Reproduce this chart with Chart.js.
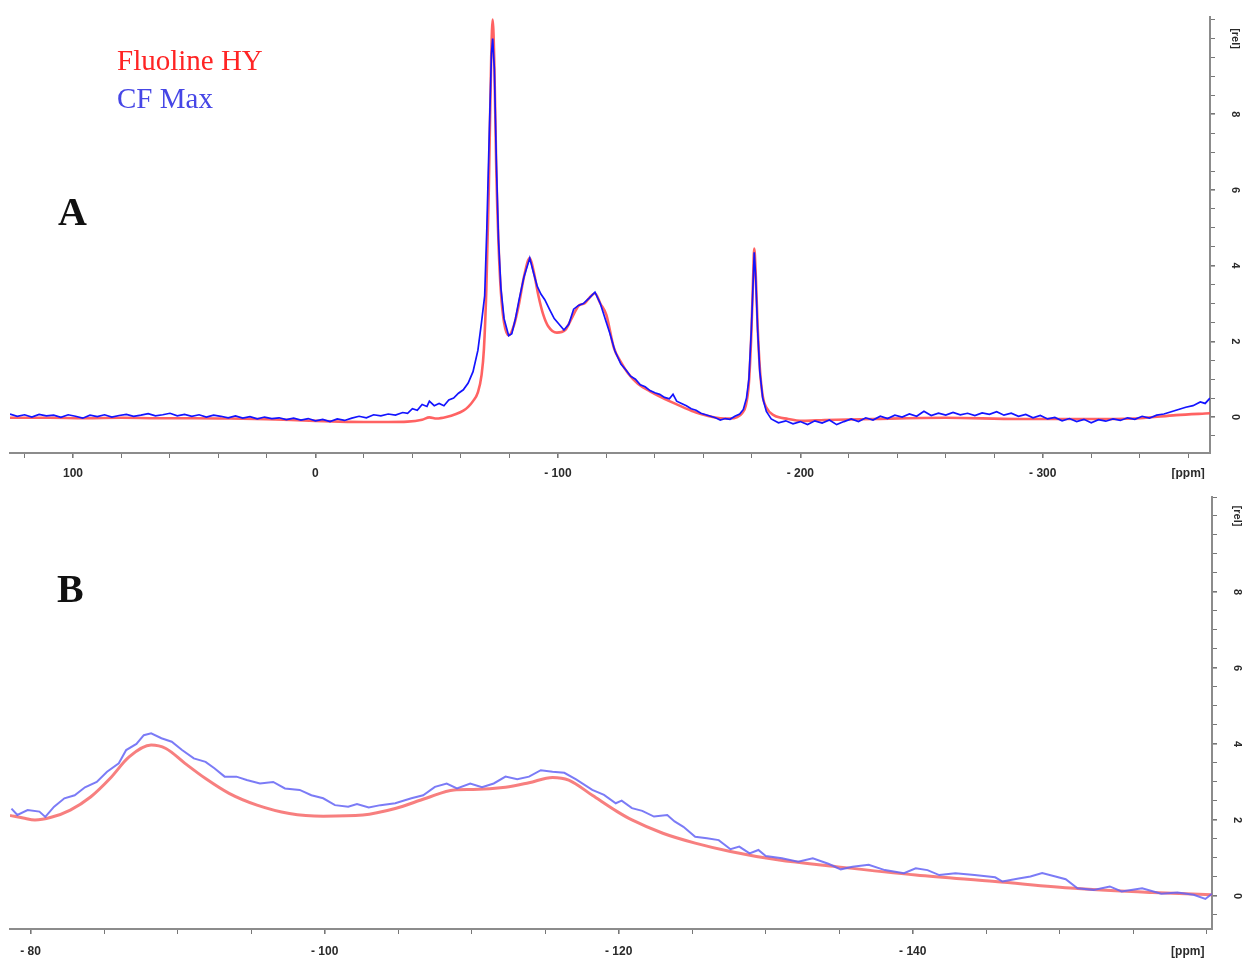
<!DOCTYPE html>
<html>
<head>
<meta charset="utf-8">
<title>19F MAS NMR spectra</title>
<script src="https://cdn.jsdelivr.net/npm/chart.js@4.4.1/dist/chart.umd.min.js"></script>
<style>
  html, body { margin: 0; padding: 0; background: #fff; }
  #wrap { position: relative; width: 1247px; height: 958px; overflow: hidden; }
  canvas { position: absolute; left: 0; }
  #chartA { top: 0; }
  #chartB { top: 479px; }
  .txt { position: absolute; font-family: "Liberation Serif", "DejaVu Serif", serif; line-height: 1; white-space: nowrap; }
  .legend { font-size: 29px; left: 117px; }
  .panel { font-size: 40px; font-weight: bold; color: #111; }
</style>
</head>
<body>
<div id="wrap">
  <canvas id="chartA" width="1247" height="479"></canvas>
  <canvas id="chartB" width="1247" height="479"></canvas>
  <div class="txt legend" style="top:46px; color:#ff2424;">Fluoline HY</div>
  <div class="txt legend" style="top:84px; color:#4646e6;">CF Max</div>
  <div class="txt panel" style="left:58px; top:192px;">A</div>
  <div class="txt panel" style="left:57px; top:569px;">B</div>
</div>

<script>
// ================= DATA : full spectrum (A) =================
// Fluoline HY, chemical shift [ppm] / intensity [rel]
const redA_ppm = [
  126, 110, 95, 80, 65, 50, 35, 20, 10, 0,
  -10, -20, -30, -38, -44, -47, -50, -54, -58, -61,
  -63, -65, -67, -68.5, -69.5, -70.5, -71.5, -72.5, -73.1, -73.8,
  -74.6, -75.5, -76.5, -77.8, -79.7, -82, -84, -86, -88.4, -90,
  -92, -94, -96, -99.6, -103, -106, -108.7, -111, -113, -115.3,
  -117.5, -120, -123, -126, -129, -133, -138, -146, -152, -157,
  -162, -167, -171, -174, -176, -177.5, -178.8, -179.8, -180.5, -181,
  -181.6, -182.4, -183.3, -184.5, -186, -189, -195, -201, -210, -230,
  -260, -290, -320, -340, -355, -369
];
const redA_val = [
  -0.02, -0.02, -0.03, -0.02, -0.03, -0.03, -0.04, -0.06, -0.08, -0.1,
  -0.12, -0.13, -0.13, -0.12, -0.07, -0.01, -0.04, 0.0, 0.08, 0.17,
  0.27, 0.42, 0.65, 1.1, 1.8, 3.4, 6.0, 9.5, 10.5, 9.3,
  6.5, 4.6, 3.3, 2.5, 2.16, 2.45, 3.0, 3.7, 4.2, 3.85,
  3.2, 2.7, 2.4, 2.23, 2.3, 2.65, 2.95, 3.0, 3.15, 3.27,
  3.0, 2.7, 1.85, 1.45, 1.15, 0.88, 0.68, 0.42, 0.25, 0.12,
  0.03, -0.03, -0.04, 0.0, 0.1, 0.3, 0.9, 2.2, 3.6, 4.45,
  3.8, 2.4, 1.3, 0.55, 0.25, 0.05, -0.05, -0.1, -0.08, -0.05,
  -0.02, -0.05, -0.05, -0.03, 0.05, 0.1
];

// CF Max
const blueA_ppm = [
  126, 123, 120, 117, 114, 111, 108, 105, 102, 99,
  96, 93, 90, 87, 84, 81, 78, 75, 72, 69,
  66, 63, 60, 57, 54, 51, 48, 45, 42, 39,
  36, 33, 30, 27, 24, 21, 18, 15, 12, 9,
  6, 3, 0, -3, -6, -9, -12, -15, -18, -21,
  -24, -27, -30, -33, -36, -38, -40, -42, -44, -46,
  -47, -49, -51, -53, -55, -57, -59, -61, -63, -65,
  -67, -68.5, -69.8, -70.7, -71.7, -72.6, -73.1, -73.8, -74.6, -75.5,
  -76.5, -77.8, -79.7, -81, -82.5, -84, -86, -88.4, -90, -91.5,
  -93, -94.6, -96.5, -98.5, -100.5, -102.5, -104.5, -106.5, -108.5, -110.5,
  -113, -115.3, -117.5, -119.5, -121.5, -123.5, -126, -128, -130, -132,
  -134, -136, -138, -140, -142, -144, -146, -147.5, -149, -151,
  -153, -155, -157, -159, -161, -163, -165, -167, -169, -171,
  -173, -175, -176.5, -177.8, -178.8, -179.8, -180.5, -181, -181.6, -182.4,
  -183.3, -184.5, -186, -188, -191, -194, -197, -200, -203, -206,
  -209, -212, -215, -218, -221, -224, -227, -230, -233, -236,
  -239, -242, -245, -248, -251, -254, -257, -260, -263, -266,
  -269, -272, -275, -278, -281, -284, -287, -290, -293, -296,
  -299, -302, -305, -308, -311, -314, -317, -320, -323, -326,
  -329, -332, -335, -338, -341, -344, -347, -350, -353, -356,
  -359, -362, -365, -367, -369
];
const blueA_val = [
  0.08, 0.02, 0.06, 0.0, 0.07, 0.03, 0.05, -0.01, 0.06, 0.02,
  -0.03, 0.05, 0.01, 0.06, 0.0, 0.04, 0.07, 0.02, 0.05, 0.09,
  0.03, 0.06, 0.1, 0.03, 0.07, 0.02, 0.06, 0.0, 0.05, 0.02,
  -0.02, 0.03, -0.03, 0.01, -0.05, 0.0, -0.04, -0.02, -0.07, -0.03,
  -0.08, -0.04, -0.1, -0.06, -0.12, -0.05, -0.09, -0.03, 0.02, -0.02,
  0.06, 0.03, 0.08, 0.05, 0.12, 0.1, 0.22, 0.18, 0.33, 0.28,
  0.42, 0.3, 0.36, 0.3, 0.45, 0.5, 0.63, 0.72, 0.9, 1.2,
  1.76, 2.5, 3.2, 5.0, 7.5, 9.6, 10.0, 9.2, 6.8, 4.7,
  3.4, 2.6, 2.15, 2.2, 2.6, 3.1, 3.7, 4.2, 3.8, 3.45,
  3.25, 3.1, 2.85, 2.6, 2.45, 2.3, 2.45, 2.85, 2.95, 3.0,
  3.15, 3.3, 3.0, 2.6, 2.2, 1.75, 1.4, 1.25, 1.08, 1.0,
  0.85, 0.8, 0.7, 0.64, 0.6, 0.52, 0.48, 0.6, 0.42, 0.36,
  0.3, 0.22, 0.18, 0.1, 0.06, 0.02, -0.02, -0.08, -0.04, -0.06,
  0.02, 0.08, 0.2, 0.5, 1.0, 2.3, 3.5, 4.35, 3.7, 2.3,
  1.2, 0.5, 0.15, -0.05, -0.15, -0.1, -0.18, -0.12, -0.2, -0.1,
  -0.16, -0.08, -0.2, -0.12, -0.05, -0.12, -0.02, -0.08, 0.02, -0.04,
  0.05, 0.0, 0.08, 0.02, 0.15, 0.04, 0.1, 0.05, 0.12, 0.06,
  0.1, 0.04, 0.11, 0.07, 0.14, 0.05, 0.1, 0.02, 0.07, -0.02,
  0.04, -0.05, -0.01, -0.1, -0.04, -0.12, -0.06, -0.15, -0.07, -0.11,
  -0.05, -0.09, -0.02, -0.06, 0.02, -0.03, 0.05, 0.08, 0.14, 0.2,
  0.26, 0.3, 0.4, 0.36, 0.5
];

// ================= DATA : expansion -78 .. -160 ppm (B) =================
const redB_ppm = [
  -78.6, -79.5, -80.3, -81.4, -82.7, -84.1, -85.4, -86.7, -88.2, -89.2,
  -90.5, -91.9, -93.5, -95.4, -97.6, -99.9, -102.6, -104.8, -106.9, -108.8,
  -110.1, -112.3, -113.9, -115.5, -116.6, -118.2, -119.9, -120.9, -123, -125.2,
  -127.6, -130.8, -134.8, -140.2, -145.6, -151, -156.3, -160.35
];
const redB_val = [
  2.12, 2.05, 2.0, 2.07, 2.26, 2.61, 3.09, 3.66, 3.97, 3.88,
  3.49, 3.09, 2.7, 2.39, 2.17, 2.1, 2.13, 2.3, 2.57, 2.79,
  2.8, 2.86, 2.98, 3.12, 3.05, 2.65, 2.22, 2.0, 1.65, 1.39,
  1.17, 0.95, 0.77, 0.55, 0.38, 0.2, 0.09, 0.03
];

const blueB_ppm = [
  -78.7, -79.1, -79.8, -80.6, -81, -81.6, -82.3, -83, -83.7, -84.5,
  -85.2, -86, -86.5, -87.2, -87.7, -88.2, -88.9, -89.6, -90.3, -91.1,
  -91.9, -92.5, -93.2, -94, -94.7, -95.6, -96.5, -97.3, -98.3, -99.1,
  -99.9, -100.7, -101.6, -102.2, -103, -103.8, -104.8, -105.9, -106.7, -107.5,
  -108.3, -109, -109.9, -110.7, -111.5, -112.3, -113.1, -113.9, -114.7, -115.5,
  -116.3, -117.1, -118.2, -119, -119.8, -120.2, -120.9, -121.6, -122.4, -123.3,
  -123.8, -124.4, -125.2, -126, -126.8, -127.6, -128.2, -128.9, -129.5, -130,
  -131.1, -132.2, -133.2, -134.3, -135.1, -135.9, -137, -138.1, -139.4, -140.2,
  -141, -141.8, -142.9, -144.2, -145.6, -146.1, -147.2, -148, -148.8, -149.7,
  -150.4, -151.2, -152.3, -153.4, -154.2, -155.6, -156.9, -158, -159.1, -159.9,
  -160.35
];
const blueB_val = [
  2.3, 2.13, 2.26, 2.22, 2.08, 2.35, 2.57, 2.65, 2.86, 3.0,
  3.27, 3.49, 3.84, 4.0, 4.23, 4.28, 4.15, 4.06, 3.84, 3.62,
  3.53, 3.36, 3.14, 3.14, 3.05, 2.96, 3.0, 2.83, 2.79, 2.65,
  2.57, 2.39, 2.35, 2.42, 2.33, 2.39, 2.44, 2.57, 2.65, 2.87,
  2.96, 2.83, 2.96, 2.86, 2.96, 3.14, 3.07, 3.14, 3.31, 3.27,
  3.24, 3.07, 2.79, 2.66, 2.44, 2.51, 2.31, 2.24, 2.09, 2.13,
  1.96, 1.82, 1.56, 1.52, 1.47, 1.23, 1.3, 1.12, 1.21, 1.05,
  0.99, 0.9, 0.99, 0.84, 0.7, 0.77, 0.82, 0.68, 0.6, 0.73,
  0.68, 0.55, 0.6, 0.55, 0.49, 0.38, 0.46, 0.51, 0.6, 0.51,
  0.44, 0.2, 0.16, 0.25, 0.12, 0.2, 0.06, 0.09, 0.03, -0.08,
  0.06
];

// ================= AXES =================
const xRangeA = [-369, 126];
const xRangeB = [-160.35, -78.6];
const yRangeA = [-0.95, 10.58];
const yRangeB = [-0.87, 10.5];

const xMajorA = [100, 0, -100, -200, -300];
const xMajorLabelsA = ["100", "0", "- 100", "- 200", "- 300"];
const xMajorB = [-80, -100, -120, -140];
const xMajorLabelsB = ["- 80", "- 100", "- 120", "- 140"];
const unitTickA = -360;   // "[ppm]" sits on a minor tick
const unitTickB = -158.7; // "[ppm]" sits just left of the -160 end tick
const yMajor = [0, 2, 4, 6, 8];
const yMajorLabels = ["0", "2", "4", "6", "8"];
const yUnitTick = 10;

const LINE_GREY = "#8c8c8c";
const TICK_GREY = "#777";
const tickFont = { family: "'Liberation Sans', Arial, sans-serif", size: 12, weight: "bold" };

function toPoints(xs, ys) {
  return xs.map((x, i) => ({ x: x, y: ys[i] }));
}

function range(from, to, step) {
  const out = [];
  const n = Math.round((to - from) / step);
  for (let i = 0; i <= n; i++) out.push(+(from + i * step).toFixed(3));
  return out;
}

function makeSpectrum(id, cfg) {
  const xTicks = range(cfg.xMinorFrom, cfg.xMinorTo, cfg.xStep);
  if (!xTicks.includes(cfg.unitTick)) xTicks.push(cfg.unitTick);
  const yTicks = range(-0.5, 10.5, 0.5);

  return new Chart(document.getElementById(id), {
    type: "line",
    data: {
      datasets: [
        {
          label: "CF Max",
          data: toPoints(cfg.blue[0], cfg.blue[1]),
          borderColor: cfg.blueColor,
          borderWidth: cfg.blueWidth,
          pointRadius: 0,
          tension: 0
        },
        {
          label: "Fluoline HY",
          data: toPoints(cfg.red[0], cfg.red[1]),
          borderColor: cfg.redColor,
          borderWidth: cfg.redWidth,
          pointRadius: 0,
          cubicInterpolationMode: "monotone"
        }
      ]
    },
    options: {
      responsive: false,
      animation: false,
      events: [],
      layout: { padding: { top: cfg.top, left: 10, right: 0, bottom: 0 } },
      plugins: { legend: { display: false }, tooltip: { enabled: false } },
      scales: {
        x: {
          type: "linear",
          reverse: true,
          min: cfg.xRange[0],
          max: cfg.xRange[1],
          afterBuildTicks: s => { s.ticks = xTicks.map(v => ({ value: v })); },
          afterFit: s => { s.height = cfg.xAxisH; },
          ticks: {
            autoSkip: false,
            minRotation: 0,
            maxRotation: 0,
            padding: cfg.xPad,
            color: "#2a2a2a",
            font: tickFont,
            callback: v => {
              const k = cfg.xMajor.indexOf(v);
              if (k >= 0) return cfg.xMajorLabels[k];
              return v === cfg.unitTick ? "[ppm]" : "";
            }
          },
          grid: {
            drawOnChartArea: false,
            drawTicks: true,
            tickLength: 5,
            // the unit label's own tick stays invisible in panel B
            color: c => (c.tick && c.tick.value === cfg.unitTick && cfg.hideUnitTick ? "rgba(0,0,0,0)" : TICK_GREY),
            lineWidth: c => (c.tick && cfg.xMajor.includes(c.tick.value) ? 1.6 : 1)
          },
          border: { color: LINE_GREY, width: 2 }
        },
        y: {
          type: "linear",
          position: "right",
          min: cfg.yRange[0],
          max: cfg.yRange[1],
          afterBuildTicks: s => { s.ticks = yTicks.map(v => ({ value: v })); },
          afterFit: s => { s.width = cfg.yAxisW; },
          ticks: {
            autoSkip: false,
            minRotation: -90,
            maxRotation: -90,
            crossAlign: "center",
            padding: 10,
            color: "#2a2a2a",
            font: { ...tickFont, size: 11 },
            callback: v => {
              const k = yMajor.indexOf(v);
              if (k >= 0) return yMajorLabels[k];
              return v === yUnitTick ? "[rel]" : "";
            }
          },
          grid: {
            drawOnChartArea: false,
            drawTicks: true,
            tickLength: 5,
            color: TICK_GREY,
            lineWidth: c => (c.tick && yMajor.includes(c.tick.value) ? 1.6 : 1)
          },
          border: { color: LINE_GREY, width: 2 }
        }
      }
    }
  });
}

// ================= INIT =================
makeSpectrum("chartA", {
  red: [redA_ppm, redA_val],
  blue: [blueA_ppm, blueA_val],
  redColor: "rgba(255, 70, 70, 0.85)",
  redWidth: 2.6,
  blueColor: "#1414ff",
  blueWidth: 1.7,
  xRange: xRangeA,
  yRange: yRangeA,
  xMinorFrom: -360, xMinorTo: 120, xStep: 20,
  xMajor: xMajorA,
  xMajorLabels: xMajorLabelsA,
  unitTick: unitTickA,
  hideUnitTick: false,
  top: 15,
  xAxisH: 26,
  xPad: 8,
  yAxisW: 37
});

makeSpectrum("chartB", {
  red: [redB_ppm, redB_val],
  blue: [blueB_ppm, blueB_val],
  redColor: "rgba(245, 95, 95, 0.8)",
  redWidth: 3,
  blueColor: "rgba(100, 100, 245, 0.85)",
  blueWidth: 2,
  xRange: xRangeB,
  yRange: yRangeB,
  xMinorFrom: -160, xMinorTo: -80, xStep: 5,
  xMajor: xMajorB,
  xMajorLabels: xMajorLabelsB,
  unitTick: unitTickB,
  hideUnitTick: true,
  top: 18,
  xAxisH: 29,
  xPad: 10,
  yAxisW: 35
});
</script>
</body>
</html>
